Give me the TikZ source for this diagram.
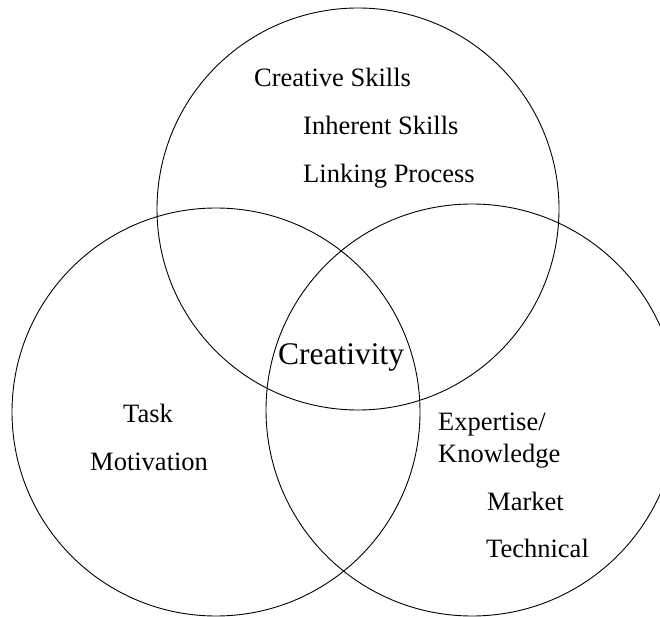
\documentclass[tikz,border=0pt]{standalone}
\usepackage{fontspec}
\setmainfont{Liberation Serif}
\tikzset{
  ring/.style={draw=black,line width=0.9pt},
  venntext/.style={anchor=base west,inner sep=0pt,text=black,font=\fontsize{26.5}{30}\selectfont},
}
\begin{document}
\begin{tikzpicture}[x=1pt,y=-1pt]
  \useasboundingbox (0,0) rectangle (660,617);
  % three overlapping circles
  \coordinate (skills) at (358,209);
  \coordinate (motive) at (216,412);
  \coordinate (expert) at (472,410);
  \draw[ring] (skills) circle (201pt);
  \draw[ring] (motive) circle (204pt);
  \draw[ring] (expert) circle (206pt);
  % labels inside the circles
  \foreach \x/\y/\name/\txt in {
    254/87/cskills/{Creative Skills},
    303/135/iskills/{Inherent Skills},
    303/183/linking/{Linking Process},
    123/422/task/{Task},
    90/470/motivation/{Motivation},
    438/430/expertise/{Expertise/},
    438/462/knowledge/{Knowledge},
    487/510/market/{Market},
    486/557/technical/{Technical}}
  {
    \node[venntext] (\name) at (\x,\y) {\txt};
  }
  \node[venntext,font=\fontsize{31.5}{36}\selectfont] (creativity) at (278,364) {Creativity};
\end{tikzpicture}
\end{document}
